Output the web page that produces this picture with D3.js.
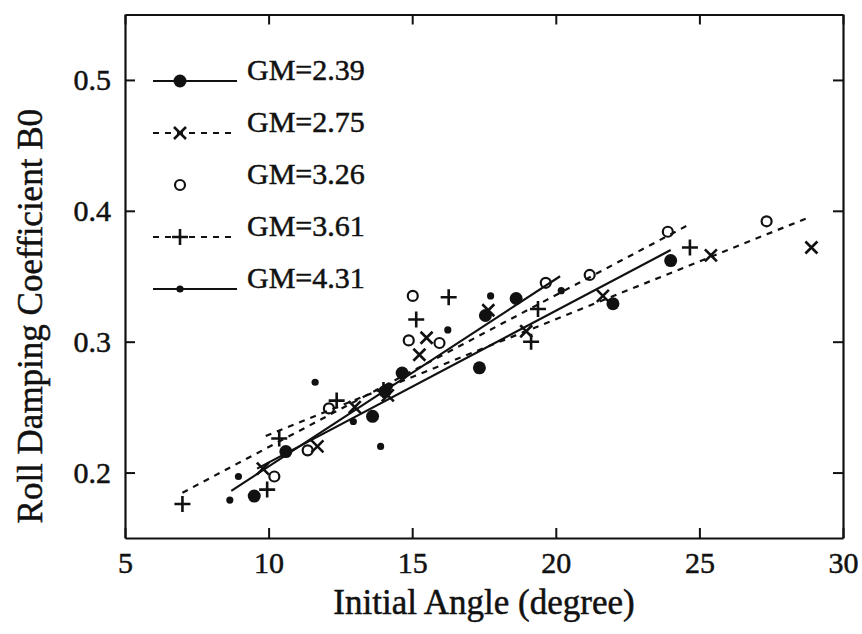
<!DOCTYPE html>
<html>
<head>
<meta charset="utf-8">
<script src="https://cdn.jsdelivr.net/npm/d3@7"></script>
<style>
  body { margin: 0; background: #fff; }
  svg { display: block; }
  text { font-family: "Liberation Serif", "Times New Roman", serif; fill: #111; stroke: #111; stroke-width: 0.5px; }
</style>
</head>
<body>
<svg id="chart" width="862" height="634"></svg>
<script>
// Points: [initial angle (deg), B0]
const gm239 = [[9.5,0.182],[10.6,0.216],[13.62,0.243],[14.05,0.262],[14.65,0.276],[17.34,0.280],[17.55,0.320],[18.62,0.333],[21.99,0.329],[24.0,0.362]];
const gm275 = [[9.8,0.203],[11.7,0.220],[13.0,0.250],[14.15,0.259],[15.25,0.290],[15.5,0.303],[17.65,0.324],[18.97,0.308],[21.64,0.335],[25.4,0.366],[28.9,0.372]];
const gm326 = [[10.2,0.197],[11.36,0.217],[12.1,0.249],[14.88,0.301],[15.02,0.335],[15.95,0.299],[19.65,0.345],[21.18,0.351],[23.9,0.384],[27.34,0.392]];
const gm361 = [[7.0,0.176],[9.95,0.187],[10.37,0.226],[12.37,0.255],[14.0,0.263],[15.14,0.317],[16.27,0.334],[19.14,0.300],[19.38,0.325],[24.67,0.372]];
const gm431 = [[8.65,0.179],[8.95,0.197],[11.62,0.269],[12.95,0.239],[13.9,0.220],[14.2,0.266],[16.24,0.309],[17.73,0.335],[20.19,0.339]];

// fitted lines (end points)
const fit239 = [[9.6,0.203],[24.0,0.370]];
const fit275 = [[9.9,0.228],[28.7,0.394]];
const fit361 = [[7.0,0.1846],[24.6,0.389]];
const fit431 = [[8.7,0.186],[20.15,0.350]];

const legendLabels = ['GM=2.39', 'GM=2.75', 'GM=3.26', 'GM=3.61', 'GM=4.31'];
const xTicks = [5, 10, 15, 20, 25, 30];
const yTicks = [0.2, 0.3, 0.4, 0.5];

const svg = d3.select('#chart');
const x = d3.scaleLinear().domain([5, 30]).range([125, 843]);
const y = d3.scaleLinear().domain([0.15, 0.55]).range([538, 14.5]);

// marker shapes
function markerPath(type) {
    if (type === 'times') return 'M-6,-6L6,6M-6,6L6,-6';
    if (type === 'plus') return 'M-8,0L8,0M0,-8L0,8';
    return null;
}

function drawMarker(g, type) {
    if (type === 'dot') {
        g.append('circle').attr('r', 6.5).attr('fill', '#111');
    } else if (type === 'small') {
        g.append('circle').attr('r', 3.6).attr('fill', '#111');
    } else if (type === 'open') {
        g.append('circle').attr('r', 5).attr('fill', 'none').attr('stroke', '#111').attr('stroke-width', 2.2);
    } else {
        g.append('path').attr('d', markerPath(type)).attr('stroke', '#111').attr('stroke-width', 2.6).attr('fill', 'none');
    }
}

const series = [
    { data: gm239, fit: fit239, marker: 'dot', dash: null },
    { data: gm275, fit: fit275, marker: 'times', dash: '6,6' },
    { data: gm326, fit: null, marker: 'open', dash: null },
    { data: gm361, fit: fit361, marker: 'plus', dash: '6,6' },
    { data: gm431, fit: fit431, marker: 'small', dash: null }
];

// axes: ticks point inward on all four sides
function styleAxis(g) {
    g.selectAll('.domain').attr('stroke', '#111').attr('stroke-width', 2.2);
    g.selectAll('.tick line').attr('stroke', '#111').attr('stroke-width', 2);
    g.selectAll('.tick text').style('font-size', '30px').attr('fill', '#111');
}

svg.append('g')
    .attr('transform', `translate(0,${y.range()[0]})`)
    .call(d3.axisBottom(x).tickValues(xTicks).tickSize(-10).tickSizeOuter(0).tickPadding(14).tickFormat(d3.format('d')))
    .call(styleAxis);

svg.append('g')
    .attr('transform', `translate(0,${y.range()[1]})`)
    .call(d3.axisTop(x).tickValues(xTicks).tickSize(-10).tickSizeOuter(0).tickFormat(''))
    .call(styleAxis);

svg.append('g')
    .attr('transform', `translate(${x.range()[0]},0)`)
    .call(d3.axisLeft(y).tickValues(yTicks).tickSize(-10).tickSizeOuter(0).tickPadding(14).tickFormat(d3.format('.1f')))
    .call(styleAxis);

svg.append('g')
    .attr('transform', `translate(${x.range()[1]},0)`)
    .call(d3.axisRight(y).tickValues(yTicks).tickSize(-10).tickSizeOuter(0).tickFormat(''))
    .call(styleAxis);

// axis titles
svg.append('text')
    .attr('x', (x.range()[0] + x.range()[1]) / 2)
    .attr('y', 614)
    .attr('text-anchor', 'middle')
    .style('font-size', '35px')
    .text('Initial Angle (degree)');

svg.append('text')
    .attr('transform', `translate(42,${(y.range()[0] + y.range()[1]) / 2 + 40}) rotate(-90)`)
    .attr('text-anchor', 'middle')
    .style('font-size', '35px')
    .text('Roll Damping Coefficient B0');

// fit lines
const line = d3.line().x(d => x(d[0])).y(d => y(d[1]));
series.forEach(s => {
    if (!s.fit) return;
    svg.append('path')
        .attr('d', line(s.fit))
        .attr('fill', 'none')
        .attr('stroke', '#111')
        .attr('stroke-width', 2.2)
        .attr('stroke-dasharray', s.dash);
});

// data points
series.forEach(s => {
    svg.append('g').selectAll('g')
        .data(s.data)
        .join('g')
        .attr('transform', d => `translate(${x(d[0])},${y(d[1])})`)
        .each(function() { drawMarker(d3.select(this), s.marker); });
});

// legend
const legend = svg.append('g');
series.forEach((s, i) => {
    const ly = 81 + i * 52;
    if (s.marker !== 'open') {
        legend.append('line')
            .attr('x1', 153).attr('x2', 237)
            .attr('y1', ly).attr('y2', ly)
            .attr('stroke', '#111')
            .attr('stroke-width', 2.2)
            .attr('stroke-dasharray', s.dash);
    }
    drawMarker(legend.append('g').attr('transform', `translate(180,${ly})`), s.marker);
    legend.append('text')
        .attr('x', 247)
        .attr('y', ly - 1)
        .style('font-size', '30px')
        .text(legendLabels[i]);
});
</script>
</body>
</html>
